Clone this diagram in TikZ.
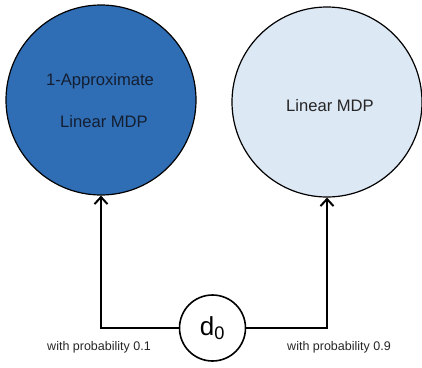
\documentclass[tikz,border=0pt]{standalone}
\usepackage{fontspec}
\setmainfont{Liberation Sans}
\usetikzlibrary{arrows.meta}
\definecolor{darkblue}{RGB}{47,110,180}
\definecolor{lightblue}{RGB}{221,232,245}
\definecolor{txtdark}{RGB}{20,30,50}
\begin{document}
\begin{tikzpicture}[x=1pt,y=-1pt,
  bigcirc/.style={circle,draw=black,line width=1.2pt,minimum size=190pt,inner sep=0pt},
  conn/.style={line width=2.6pt,-{Straight Barb[length=7pt,width=13pt,line width=2pt]}},
  circtext/.style={font=\fontsize{16.6}{18}\selectfont},
  prob/.style={font=\fontsize{12.5}{14}\selectfont,text=black!85}]
\useasboundingbox (0,0) rectangle (422,367);
\node[bigcirc,fill=darkblue] (L) at (101,100) {};
\node[bigcirc,fill=lightblue] (R) at (327,102) {};
\node[circtext,text=txtdark] (t1) at (100,81) {1-Approximate};
\node[circtext,text=txtdark] (t2) at (104,122) {Linear MDP};
\node[circtext,text=black!85] (t3) at (330,106) {Linear MDP};
\node[circle,draw=black,line width=1.6pt,fill=white,minimum size=66pt,inner sep=0pt,font=\fontsize{26}{28}\selectfont] (D) at (212.5,328) {d\textsubscript{0}};
\draw[conn] (D.west) -| (L.south);
\draw[conn] (D.east) -| (R.south);
\node[prob] (p1) at (99,347) {with probability 0.1};
\node[prob] (p2) at (339,347) {with probability 0.9};
\end{tikzpicture}
\end{document}
